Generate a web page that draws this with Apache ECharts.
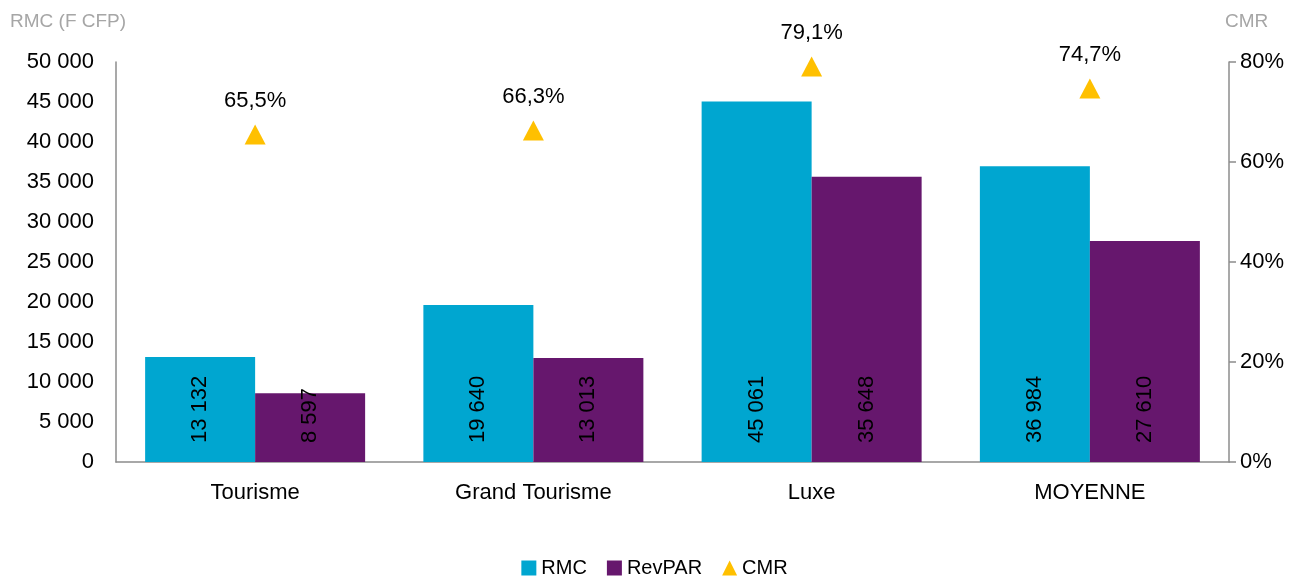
<!DOCTYPE html>
<html>
<head>
<meta charset="utf-8">
<script src="https://cdn.jsdelivr.net/npm/echarts@6/dist/echarts.min.js"></script>
<style>html,body{margin:0;padding:0;background:#fff;}#c{width:1309px;height:579px;}</style>
</head>
<body>
<div id="c"></div>
<script>
const categories = ['Tourisme', 'Grand Tourisme', 'Luxe', 'MOYENNE'];
const rmc = [13132, 19640, 45061, 36984];
const revpar = [8597, 13013, 35648, 27610];
const cmr = [0.655, 0.663, 0.791, 0.747];

const FONT = 'Liberation Sans';
const FS = 22;
const fmtNum = v => String(v).replace(/\B(?=(\d{3})+(?!\d))/g, ' ');
const fmtPct = v => (v * 100).toFixed(1).replace('.', ',') + '%';

const chart = echarts.init(document.getElementById('c'));
const barLabel = {
  show: true, position: 'insideBottom', distance: 19, rotate: 90,
  align: 'left', verticalAlign: 'middle',
  color: '#000', fontSize: FS, fontFamily: FONT,
  formatter: p => fmtNum(p.value)
};
chart.setOption({
  animation: false,
  textStyle: { fontFamily: FONT },
  grid: { left: 116, right: 80, top: 62, bottom: 117, containLabel: false },
  legend: {
    bottom: -4, left: 'center', itemWidth: 15, itemHeight: 15, itemGap: 20,
    textStyle: { fontSize: 20, fontFamily: FONT, color: '#000' },
    data: [
      { name: 'RMC', icon: 'rect' },
      { name: 'RevPAR', icon: 'rect' },
      { name: 'CMR', icon: 'triangle' }
    ]
  },
  xAxis: {
    type: 'category', data: categories,
    axisLine: { lineStyle: { color: '#8c8c8c', width: 1.5 } },
    axisTick: { show: false },
    axisLabel: { color: '#000', fontSize: FS, fontFamily: FONT, margin: 20 }
  },
  yAxis: [
    {
      type: 'value', min: 0, max: 50000, interval: 5000,
      name: 'RMC (F CFP)', nameLocation: 'end', nameGap: 31,
      nameTextStyle: { color: '#a6a6a6', fontSize: 19, fontFamily: FONT, align: 'left', padding: [0, 0, 0, -106] },
      axisLine: { show: true, lineStyle: { color: '#8c8c8c', width: 1.5 } },
      axisTick: { show: false },
      splitLine: { show: false },
      axisLabel: { color: '#000', fontSize: FS, fontFamily: FONT, margin: 22, formatter: v => fmtNum(v) }
    },
    {
      type: 'value', min: 0, max: 0.8, interval: 0.2,
      name: 'CMR', nameLocation: 'end', nameGap: 31,
      nameTextStyle: { color: '#a6a6a6', fontSize: 19, fontFamily: FONT, align: 'left', padding: [0, 0, 0, -4] },
      axisLine: { show: true, lineStyle: { color: '#8c8c8c', width: 1.5 } },
      axisTick: { show: true, inside: false, length: 7, lineStyle: { color: '#8c8c8c', width: 1.5 } },
      splitLine: { show: false },
      axisLabel: { color: '#000', fontSize: FS, fontFamily: FONT, margin: 11, formatter: v => Math.round(v * 100) + '%' }
    }
  ],
  series: [
    {
      name: 'RMC', type: 'bar', data: rmc, barWidth: 110, barGap: '0%',
      itemStyle: { color: '#00a6d0' }, label: barLabel
    },
    {
      name: 'RevPAR', type: 'bar', data: revpar, barWidth: 110, barGap: '0%',
      itemStyle: { color: '#66176d' }, label: barLabel
    },
    {
      name: 'CMR', type: 'line', yAxisIndex: 1, data: cmr,
      symbol: 'triangle', symbolSize: [21, 20],
      lineStyle: { opacity: 0, width: 0 },
      itemStyle: { color: '#ffc000' },
      label: { show: true, position: 'top', distance: 13, color: '#000', fontSize: FS, fontFamily: FONT, formatter: p => fmtPct(p.value) }
    }
  ]
});
</script>
</body>
</html>
